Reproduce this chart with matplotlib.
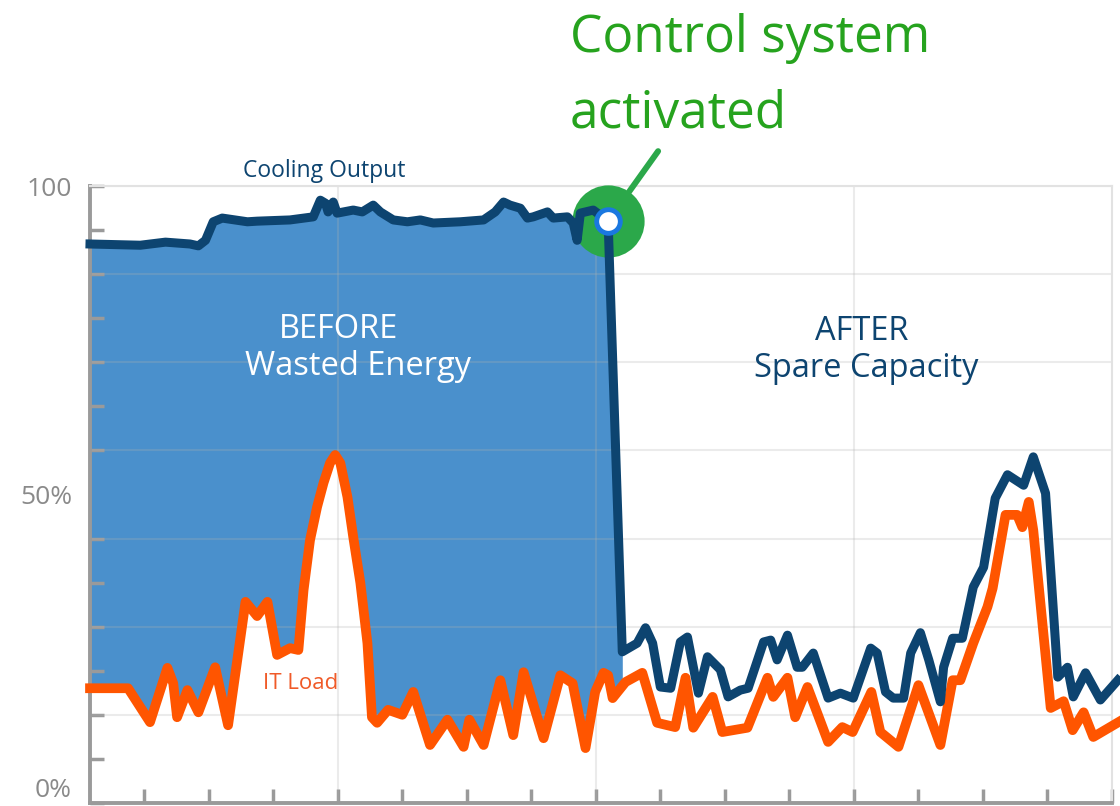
import numpy as np
import matplotlib
matplotlib.use('Agg')
import matplotlib.pyplot as plt

# time axis in hours (ticks every hour), values in % of capacity
cool_x = [-0.84, -0.06, 0.33, 0.71, 0.84, 0.95, 1.07, 1.21, 1.60, 1.75, 2.26, 2.62,
          2.73, 2.81, 2.85, 2.93, 2.99, 3.09, 3.24, 3.38, 3.55, 3.66, 3.86, 4.08,
          4.28, 4.48, 4.90, 5.26, 5.44, 5.57, 5.67, 5.83, 5.94, 6.03, 6.25, 6.34,
          6.56, 6.65, 6.71, 6.76, 6.96, 7.19, 7.41, 7.64, 7.77, 7.88, 8.00, 8.16,
          8.31, 8.42, 8.59, 8.73, 8.93, 9.05, 9.24, 9.36, 9.60, 9.71, 9.81, 9.97,
          10.12, 10.20, 10.37, 10.60, 10.79, 10.99, 11.26, 11.36, 11.49, 11.61, 11.77, 11.88,
          12.03, 12.16, 12.34, 12.39, 12.53, 12.68, 12.85, 13.01, 13.19, 13.38, 13.63, 13.78,
          13.97, 14.16, 14.31, 14.40, 14.59, 14.82, 15.09]
cooling = [90.6, 90.4, 90.9, 90.6, 90.3, 91.2, 94.2, 94.8, 94.2, 94.3, 94.5, 95.0,
           97.7, 97.2, 95.8, 97.4, 95.6, 95.8, 96.1, 95.8, 96.9, 95.8, 94.5, 94.2,
           94.5, 94.0, 94.2, 94.5, 95.8, 97.4, 96.9, 96.4, 94.8, 95.0, 95.8, 94.8,
           95.0, 94.0, 91.2, 95.6, 96.1, 94.3, 24.5, 25.9, 28.4, 25.9, 18.8, 18.6,
           26.1, 26.9, 17.8, 23.7, 21.6, 17.2, 18.3, 18.6, 26.1, 26.4, 23.2, 27.2,
           22.0, 22.0, 24.3, 17.0, 17.8, 17.0, 25.1, 24.3, 18.0, 17.0, 17.0, 24.3,
           27.6, 23.2, 16.4, 22.0, 26.7, 26.7, 35.0, 38.2, 49.4, 53.2, 51.5, 56.1,
           50.2, 20.4, 22.0, 17.2, 21.1, 16.7, 19.9]

it_x = [-0.84, -0.25, 0.09, 0.36, 0.45, 0.51, 0.67, 0.84, 1.10, 1.30, 1.57, 1.75,
        1.91, 2.06, 2.26, 2.39, 2.47, 2.57, 2.68, 2.78, 2.88, 2.96, 3.04, 3.15,
        3.24, 3.35, 3.46, 3.53, 3.61, 3.78, 4.00, 4.17, 4.43, 4.70, 4.95, 5.04,
        5.26, 5.52, 5.72, 5.88, 6.19, 6.45, 6.64, 6.84, 6.99, 7.12, 7.19, 7.26,
        7.46, 7.72, 7.95, 8.23, 8.39, 8.51, 8.81, 8.96, 9.35, 9.66, 9.75, 9.97,
        10.09, 10.28, 10.60, 10.82, 10.98, 11.27, 11.41, 11.69, 12.00, 12.34, 12.53, 12.65,
        12.85, 13.07, 13.15, 13.35, 13.53, 13.61, 13.71, 13.78, 14.05, 14.25, 14.39, 14.56,
        14.71, 15.10]
it_load = [18.6, 18.6, 13.1, 21.9, 19.4, 13.9, 18.3, 14.7, 22.0, 12.6, 32.6, 30.3,
           32.6, 24.0, 25.1, 24.8, 34.5, 42.6, 48.0, 51.9, 55.1, 56.4, 55.1, 49.6,
           43.1, 35.7, 25.9, 13.9, 13.0, 15.1, 14.3, 18.0, 9.4, 13.5, 9.1, 13.5,
           9.4, 19.9, 11.0, 21.2, 10.5, 20.7, 19.4, 8.9, 18.0, 21.1, 20.7, 17.0,
           19.6, 21.1, 13.0, 12.3, 20.3, 12.2, 17.2, 11.5, 12.2, 20.3, 17.2, 20.3,
           13.9, 18.8, 9.9, 12.3, 11.5, 18.0, 11.5, 9.1, 19.1, 9.4, 19.9, 19.9,
           25.9, 31.8, 34.8, 46.7, 46.7, 44.7, 48.8, 44.2, 15.4, 16.5, 11.8, 14.7,
           10.7, 13.1]

switch_x = 7.19      # control system switched on
switch_y = 94.3
fill_end = 7.41

navy = '#0d4470'
orange = '#ff5500'
fill_blue = '#4a90cc'
green = '#2ba84a'
grey = '#9a9a9a'

plt.rcParams['font.family'] = ['Open Sans', 'DejaVu Sans']

fig = plt.figure(figsize=(11.2, 8.06), dpi=100)
ax = fig.add_axes([90 / 1120, 3 / 806, 1022 / 1120, 617 / 806])
ax.set_xlim(-0.84, 15)
ax.set_ylim(0, 100)

# wasted energy area between cooling output and IT load (before switch)
xs = np.union1d(cool_x, it_x)
xs = xs[xs <= fill_end]
ax.fill_between(xs, np.interp(xs, it_x, it_load), np.interp(xs, cool_x, cooling),
                color=fill_blue, lw=0, zorder=1)

# grid
for k in range(0, 15, 2):
    ax.axhline(k / 14 * 100, color='#b0b0b0', alpha=0.25, lw=1.5, zorder=2)
for v in [3, 7, 11]:
    ax.axvline(v, color='#b0b0b0', alpha=0.25, lw=1.5, zorder=2)

ax.plot([switch_x], [switch_y], 'o', ms=52, color=green, mew=0, zorder=3, clip_on=False)
ax.plot(it_x, it_load, color=orange, lw=7, solid_joinstyle='round', zorder=4, clip_on=False)
ax.plot(cool_x, cooling, color=navy, lw=6.5, solid_joinstyle='round', zorder=5, clip_on=False)
ax.plot([switch_x], [switch_y], 'o', ms=17, mfc='white', mec='#1a78e0', mew=3.5,
        zorder=6, clip_on=False)

ax.annotate('', xy=(switch_x, switch_y), xytext=(50, 70), textcoords='offset pixels',
            arrowprops=dict(arrowstyle='-', color=green, lw=4.3, shrinkA=0, shrinkB=26),
            annotation_clip=False)

# axes styling
for s in ['top', 'right']:
    ax.spines[s].set_color('#e2e2e2')
    ax.spines[s].set_linewidth(1.5)
for s in ['left', 'bottom']:
    ax.spines[s].set_color(grey)
    ax.spines[s].set_linewidth(2.8)

ax.set_xticks(range(0, 16))
ax.set_xticklabels([])
yt = [k / 14 * 100 for k in range(15)]
ylabels = [''] * 15
ylabels[0], ylabels[7], ylabels[14] = '0%', '50%', '100'
ax.set_yticks(yt)
ax.set_yticklabels(ylabels, fontsize=19, color='#8a8a8a')
ax.tick_params(axis='both', direction='in', length=10, width=2.5, color=grey)
ax.tick_params(axis='y', pad=13)
ax.yaxis.get_major_ticks()[7].tick1line.set_visible(False)
ax.get_yticklabels()[0].set_va('bottom')

# labels
ax.text(1.53, 101.5, 'Cooling Output', color=navy, fontsize=16.5, va='baseline', clip_on=False)
ax.text(1.84, 18.5, 'IT Load', color='#f05a28', fontsize=16, va='baseline')
ax.text(3.01, 75.4, 'BEFORE', color='white', fontsize=23.5, ha='center', va='baseline')
ax.text(3.32, 69.4, 'Wasted Energy', color='white', fontsize=23.5, ha='center', va='baseline')
ax.text(11.12, 75.0, 'AFTER', color=navy, fontsize=23.5, ha='center', va='baseline')
ax.text(11.19, 69.0, 'Spare Capacity', color=navy, fontsize=23.5, ha='center', va='baseline')

fig.text(570 / 1120, 1 - 52 / 806, 'Control system', color='#26a31e', fontsize=37,
         va='baseline', ha='left')
fig.text(570 / 1120, 1 - 128 / 806, 'activated', color='#26a31e', fontsize=37,
         va='baseline', ha='left')

fig.savefig('out.png', dpi=100)
